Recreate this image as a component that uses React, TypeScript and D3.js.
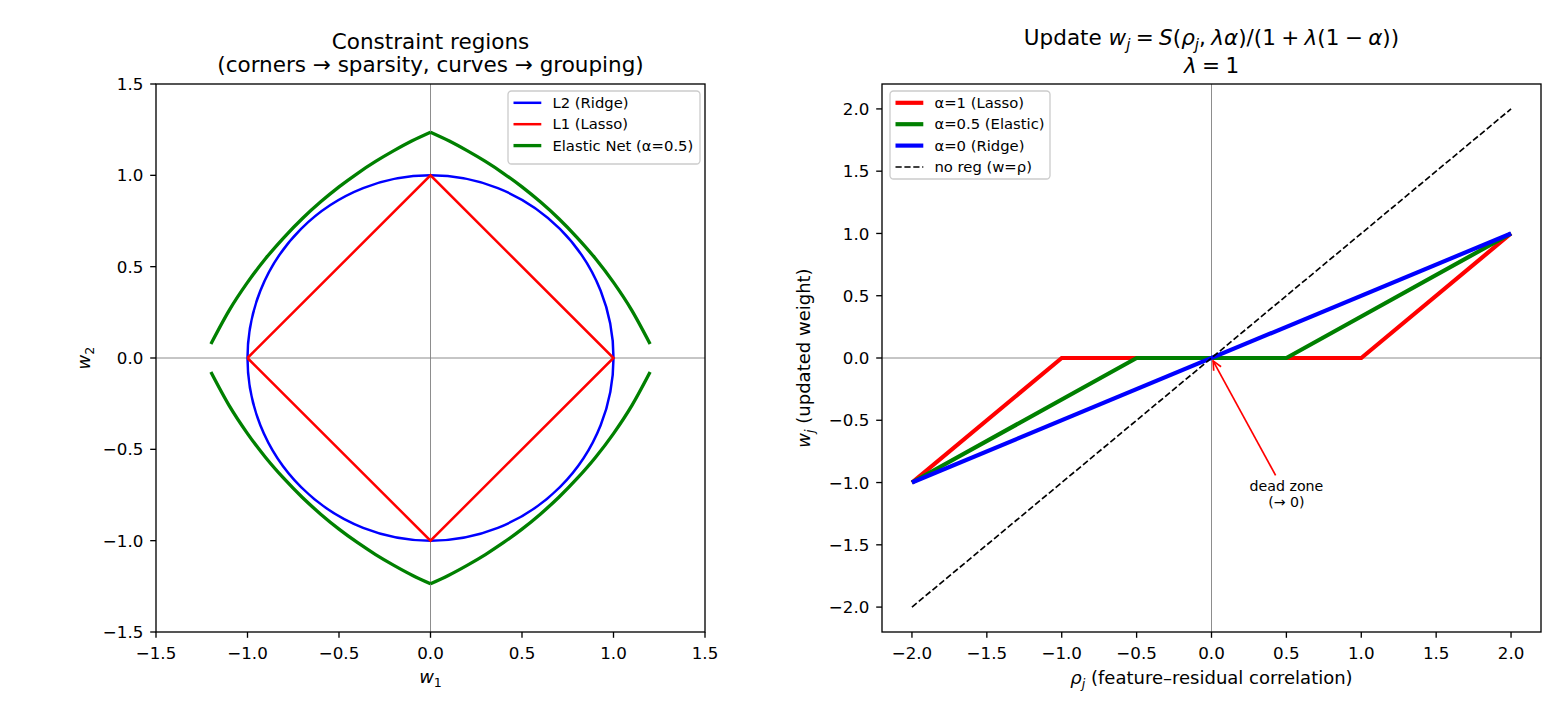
import React from "react";
import * as d3 from "d3";

// ---------- data ----------
// Left panel: constraint region boundaries
const regionTicks = [-1.5, -1.0, -0.5, 0.0, 0.5, 1.0, 1.5];
const ridgeRadius = 1;
const lassoW1 = [-1, 0, 1, 0, -1];
const lassoW2 = [0, 1, 0, -1, 0];
const elasticW1 = [
  -1.2, -1.1, -1.0, -0.9, -0.8, -0.7, -0.6, -0.5, -0.4, -0.3, -0.2, -0.1, 0.0,
  0.1, 0.2, 0.3, 0.4, 0.5, 0.6, 0.7, 0.8, 0.9, 1.0, 1.1, 1.2,
];
const elasticUpperW2 = [
  0.077, 0.261, 0.414, 0.546, 0.661, 0.764, 0.855, 0.937, 1.01, 1.076, 1.135, 1.189, 1.236,
  1.189, 1.135, 1.076, 1.01, 0.937, 0.855, 0.764, 0.661, 0.546, 0.414, 0.261, 0.077,
];
const elasticLowerW2 = [
  -0.077, -0.261, -0.414, -0.546, -0.661, -0.764, -0.855, -0.937, -1.01, -1.076, -1.135, -1.189, -1.236,
  -1.189, -1.135, -1.076, -1.01, -0.937, -0.855, -0.764, -0.661, -0.546, -0.414, -0.261, -0.077,
];
const regionLegend = ["L2 (Ridge)", "L1 (Lasso)", "Elastic Net (α=0.5)"];

// Right panel: coordinate-descent update curves (λ = 1)
const updateTicks = [-2.0, -1.5, -1.0, -0.5, 0.0, 0.5, 1.0, 1.5, 2.0];
const lassoRho = [-2, -1, 1, 2];
const lassoW = [-1, 0, 0, 1];
const elasticRho = [-2, -0.5, 0.5, 2];
const elasticW = [-1, 0, 0, 1];
const ridgeRho = [-2, 2];
const ridgeW = [-1, 1];
const noRegRho = [-2, 2];
const noRegW = [-2, 2];
const updateLegend = ["α=1 (Lasso)", "α=0.5 (Elastic)", "α=0 (Ridge)", "no reg (w=ρ)"];
const deadZonePoint = [0, 0];
const deadZoneText = [0.5, -1.1];
const deadZoneLines = ["dead zone", "(→ 0)"];

// ---------- style ----------
const FONT = "DejaVu Sans, Verdana, sans-serif";
const TICK_FS = 16.7;
const LABEL_FS = 18;
const TITLE_FS = 21.5;
const LEG_FS = 14.8;
const NOTE_FS = 14.2;
const TICK_LEN = 5.8;
const TICK_PAD = 5.8;
const MSP = "\u2005"; // narrow space used around math operators

const fmt = (v: number) => d3.format(".1f")(v).replace("-", "−");

type Run = { t: string; it?: boolean; sub?: boolean };

function Runs({ runs, fs }: { runs: Run[]; fs: number }) {
  const out: React.ReactNode[] = [];
  let shifted = false;
  runs.forEach((r, i) => {
    let dy: number | undefined;
    if (r.sub && !shifted) {
      dy = fs * 0.22;
      shifted = true;
    } else if (!r.sub && shifted) {
      dy = -fs * 0.22;
      shifted = false;
    }
    out.push(
      <tspan
        key={i}
        dy={dy}
        fontStyle={r.it ? "italic" : "normal"}
        fontSize={r.sub ? fs * 0.7 : fs}
      >
        {r.t}
      </tspan>
    );
  });
  return <>{out}</>;
}

type Box = { x0: number; x1: number; y0: number; y1: number };

function Frame({
  box,
  xs,
  ys,
  ticks,
}: {
  box: Box;
  xs: d3.ScaleLinear<number, number>;
  ys: d3.ScaleLinear<number, number>;
  ticks: number[];
}) {
  return (
    <g>
      <rect
        x={box.x0}
        y={box.y0}
        width={box.x1 - box.x0}
        height={box.y1 - box.y0}
        fill="none"
        stroke="#000"
        strokeWidth={1.33}
      />
      {ticks.map((t) => (
        <g key={"x" + t}>
          <line x1={xs(t)} x2={xs(t)} y1={box.y1} y2={box.y1 + TICK_LEN} stroke="#000" strokeWidth={1.33} />
          <text
            x={xs(t)}
            y={box.y1 + TICK_LEN + TICK_PAD + 15.4}
            textAnchor="middle"
            fontSize={TICK_FS}
            fontFamily={FONT}
          >
            {fmt(t)}
          </text>
        </g>
      ))}
      {ticks.map((t) => (
        <g key={"y" + t}>
          <line x1={box.x0 - TICK_LEN} x2={box.x0} y1={ys(t)} y2={ys(t)} stroke="#000" strokeWidth={1.33} />
          <text
            x={box.x0 - TICK_LEN - TICK_PAD - 1}
            y={ys(t) + 6.1}
            textAnchor="end"
            fontSize={TICK_FS}
            fontFamily={FONT}
          >
            {fmt(t)}
          </text>
        </g>
      ))}
    </g>
  );
}

function Legend({
  x,
  y,
  w,
  h,
  entries,
}: {
  x: number;
  y: number;
  w: number;
  h: number;
  entries: { label: string; color: string; width: number; dash?: string }[];
}) {
  const rowH = 21.4;
  return (
    <g>
      <rect
        x={x}
        y={y}
        width={w}
        height={h}
        rx={3.5}
        fill="#fff"
        fillOpacity={0.8}
        stroke="#cccccc"
        strokeWidth={1.33}
      />
      {entries.map((e, i) => {
        const cy = y + 11.8 + i * rowH;
        return (
          <g key={e.label}>
            <line
              x1={x + 5.5}
              x2={x + 5.5 + 27.8}
              y1={cy}
              y2={cy}
              stroke={e.color}
              strokeWidth={e.width}
              strokeDasharray={e.dash}
            />
            <text x={x + 5.5 + 27.8 + 11.1} y={cy + 5.2} fontSize={LEG_FS} fontFamily={FONT}>
              {e.label}
            </text>
          </g>
        );
      })}
    </g>
  );
}

export default function App() {
  // ---------- left panel ----------
  const L: Box = { x0: 156, x1: 705, y0: 84, y1: 632 };
  const lx = d3.scaleLinear().domain([-1.5, 1.5]).range([L.x0, L.x1]);
  const ly = d3.scaleLinear().domain([-1.5, 1.5]).range([L.y1, L.y0]);

  const polyLine = d3
    .line<[number, number]>()
    .x((d) => lx(d[0]))
    .y((d) => ly(d[1]));
  const smooth = d3
    .line<[number, number]>()
    .x((d) => lx(d[0]))
    .y((d) => ly(d[1]))
    .curve(d3.curveMonotoneX);

  const lassoPts = lassoW1.map((v, i) => [v, lassoW2[i]] as [number, number]);
  const mid = elasticW1.indexOf(0);
  const halves = (ys: number[]) => [
    elasticW1.slice(0, mid + 1).map((v, i) => [v, ys[i]] as [number, number]),
    elasticW1.slice(mid).map((v, i) => [v, ys[mid + i]] as [number, number]),
  ];
  const elasticPaths = [...halves(elasticUpperW2), ...halves(elasticLowerW2)];

  // ---------- right panel ----------
  const R: Box = { x0: 882, x1: 1541, y0: 84, y1: 632 };
  const rx = d3.scaleLinear().domain([-2.2, 2.2]).range([R.x0, R.x1]);
  const ry = d3.scaleLinear().domain([-2.2, 2.2]).range([R.y1, R.y0]);
  const rLine = d3
    .line<[number, number]>()
    .x((d) => rx(d[0]))
    .y((d) => ry(d[1]));
  const zip = (a: number[], b: number[]) => a.map((v, i) => [v, b[i]] as [number, number]);

  // annotation arrow from the text block toward the origin
  const tcx = rx(deadZoneText[0]);
  const tcy = ry(deadZoneText[1]);
  const px = rx(deadZonePoint[0]);
  const py = ry(deadZonePoint[1]);
  const dx = px - tcx;
  const dy = py - tcy;
  const len = Math.hypot(dx, dy);
  const ux = dx / len;
  const uy = dy / len;
  const textTop = tcy - 16.8;
  const tExit = (tcy - textTop) / -uy;
  const tail = [tcx + ux * (tExit + 3.3), tcy + uy * (tExit + 3.3)];
  const head = [px - ux * 3.3, py - uy * 3.3];
  const hl = 9;
  const hw = 4.2;
  const wing1 = [head[0] - ux * hl - uy * hw, head[1] - uy * hl + ux * hw];
  const wing2 = [head[0] - ux * hl + uy * hw, head[1] - uy * hl - ux * hw];

  return (
    <svg
      width={1560}
      height={715}
      viewBox="0 0 1560 715"
      style={{ position: "absolute", left: 0, top: 0, background: "#fff" }}
      fontFamily={FONT}
    >
      <rect x={0} y={0} width={1560} height={715} fill="#fff" />

      {/* ===== left: constraint regions ===== */}
      <text x={(L.x0 + L.x1) / 2} y={49} textAnchor="middle" fontSize={TITLE_FS}>
        Constraint regions
      </text>
      <text x={(L.x0 + L.x1) / 2} y={72} textAnchor="middle" fontSize={TITLE_FS}>
        (corners → sparsity, curves → grouping)
      </text>
      <line x1={L.x0} x2={L.x1} y1={ly(0)} y2={ly(0)} stroke="#808080" strokeWidth={0.9} />
      <line x1={lx(0)} x2={lx(0)} y1={L.y0} y2={L.y1} stroke="#808080" strokeWidth={0.9} />
      <ellipse
        cx={lx(0)}
        cy={ly(0)}
        rx={lx(ridgeRadius) - lx(0)}
        ry={ly(0) - ly(ridgeRadius)}
        fill="none"
        stroke="#0000ff"
        strokeWidth={2.5}
      />
      <path d={polyLine(lassoPts) || ""} fill="none" stroke="#ff0000" strokeWidth={2.5} strokeLinejoin="miter" />
      {elasticPaths.map((p, i) => (
        <path key={i} d={smooth(p) || ""} fill="none" stroke="#008000" strokeWidth={3.33} />
      ))}
      <Frame box={L} xs={lx} ys={ly} ticks={regionTicks} />
      <text x={(L.x0 + L.x1) / 2} y={683} textAnchor="middle" fontSize={LABEL_FS}>
        <Runs fs={LABEL_FS} runs={[{ t: "w", it: true }, { t: "1", sub: true }]} />
      </text>
      <text transform={`translate(90,${ly(0)}) rotate(-90)`} textAnchor="middle" fontSize={LABEL_FS}>
        <Runs fs={LABEL_FS} runs={[{ t: "w", it: true }, { t: "2", sub: true }]} />
      </text>
      <Legend
        x={508}
        y={91}
        w={192}
        h={73}
        entries={[
          { label: regionLegend[0], color: "#0000ff", width: 2.5 },
          { label: regionLegend[1], color: "#ff0000", width: 2.5 },
          { label: regionLegend[2], color: "#008000", width: 3.33 },
        ]}
      />

      {/* ===== right: update rule ===== */}
      <text x={(R.x0 + R.x1) / 2} y={45} textAnchor="middle" fontSize={TITLE_FS}>
        <Runs
          fs={TITLE_FS}
          runs={[
            { t: "Update " },
            { t: "w", it: true },
            { t: "j", it: true, sub: true },
            { t: `${MSP}=${MSP}` },
            { t: "S", it: true },
            { t: "(" },
            { t: "ρ", it: true },
            { t: "j", it: true, sub: true },
            { t: `,${MSP}` },
            { t: "λα", it: true },
            { t: `)/(1${MSP}+${MSP}` },
            { t: "λ", it: true },
            { t: `(1${MSP}−${MSP}` },
            { t: "α", it: true },
            { t: "))" },
          ]}
        />
      </text>
      <text x={(R.x0 + R.x1) / 2} y={73} textAnchor="middle" fontSize={TITLE_FS}>
        <Runs fs={TITLE_FS} runs={[{ t: "λ", it: true }, { t: `${MSP}=${MSP}1` }]} />
      </text>
      <line x1={R.x0} x2={R.x1} y1={ry(0)} y2={ry(0)} stroke="#808080" strokeWidth={0.9} />
      <line x1={rx(0)} x2={rx(0)} y1={R.y0} y2={R.y1} stroke="#808080" strokeWidth={0.9} />
      <path d={rLine(zip(lassoRho, lassoW)) || ""} fill="none" stroke="#ff0000" strokeWidth={4.17} />
      <path d={rLine(zip(elasticRho, elasticW)) || ""} fill="none" stroke="#008000" strokeWidth={4.17} />
      <path d={rLine(zip(ridgeRho, ridgeW)) || ""} fill="none" stroke="#0000ff" strokeWidth={4.17} />
      <path
        d={rLine(zip(noRegRho, noRegW)) || ""}
        fill="none"
        stroke="#000"
        strokeWidth={1.67}
        strokeDasharray="6.2 2.7"
      />
      {/* annotation */}
      <line x1={tail[0]} y1={tail[1]} x2={head[0]} y2={head[1]} stroke="#ff0000" strokeWidth={1.67} />
      <polyline
        points={`${wing1[0]},${wing1[1]} ${head[0]},${head[1]} ${wing2[0]},${wing2[1]}`}
        fill="none"
        stroke="#ff0000"
        strokeWidth={1.67}
      />
      <text x={tcx} y={tcy - 4} textAnchor="middle" fontSize={NOTE_FS}>
        {deadZoneLines[0]}
      </text>
      <text x={tcx} y={tcy + 12} textAnchor="middle" fontSize={NOTE_FS}>
        {deadZoneLines[1]}
      </text>
      <Frame box={R} xs={rx} ys={ry} ticks={updateTicks} />
      <text x={(R.x0 + R.x1) / 2} y={684} textAnchor="middle" fontSize={LABEL_FS}>
        <Runs
          fs={LABEL_FS}
          runs={[
            { t: "ρ", it: true },
            { t: "j", it: true, sub: true },
            { t: " (feature–residual correlation)" },
          ]}
        />
      </text>
      <text transform={`translate(810,${ry(0)}) rotate(-90)`} textAnchor="middle" fontSize={LABEL_FS}>
        <Runs
          fs={LABEL_FS}
          runs={[
            { t: "w", it: true },
            { t: "j", it: true, sub: true },
            { t: " (updated weight)" },
          ]}
        />
      </text>
      <Legend
        x={890}
        y={91}
        w={160}
        h={88}
        entries={[
          { label: updateLegend[0], color: "#ff0000", width: 4.17 },
          { label: updateLegend[1], color: "#008000", width: 4.17 },
          { label: updateLegend[2], color: "#0000ff", width: 4.17 },
          { label: updateLegend[3], color: "#000", width: 1.67, dash: "6.2 2.7" },
        ]}
      />
    </svg>
  );
}
